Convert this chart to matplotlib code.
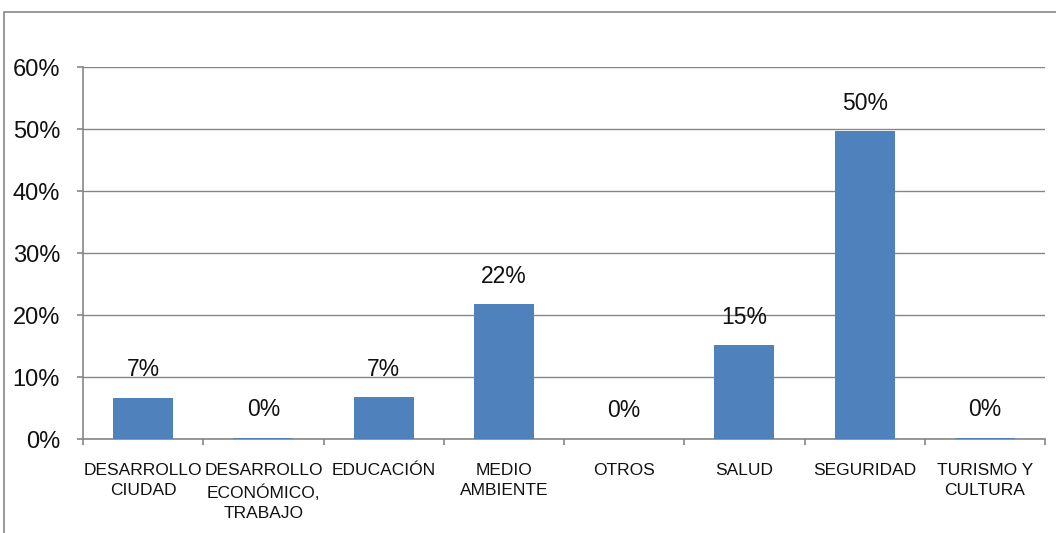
import matplotlib.pyplot as plt
from matplotlib.patches import Rectangle

plt.rcParams['font.family'] = ['Liberation Sans', 'DejaVu Sans']

categories = ['DESARROLLO\nCIUDAD', 'DESARROLLO\nECONÓMICO,\nTRABAJO', 'EDUCACIÓN',
              'MEDIO\nAMBIENTE', 'OTROS', 'SALUD', 'SEGURIDAD', 'TURISMO Y\nCULTURA']
values = [0.066, 0.002, 0.067, 0.217, 0.0, 0.151, 0.496, 0.002]
labels = ['7%', '0%', '7%', '22%', '0%', '15%', '50%', '0%']
yticks = [0, 0.1, 0.2, 0.3, 0.4, 0.5, 0.6]
ytick_labels = ['0%', '10%', '20%', '30%', '40%', '50%', '60%']

fig = plt.figure(figsize=(10.56, 5.33), dpi=100)
ax = fig.add_axes([83 / 1056, 1 - 439 / 533, (1045 - 83) / 1056, (439 - 67) / 533])

# outer chart frame (partially cropped in the original)
fig.patches.append(Rectangle((4 / 1056, -0.2), 1.2, (533 - 12) / 533 + 0.2,
                             transform=fig.transFigure, fill=False,
                             edgecolor='#868686', linewidth=1.2))

x = range(len(categories))
ax.bar(x, values, width=0.5, color='#4F81BD', zorder=3)
for xi, v, lab in zip(x, values, labels):
    ax.annotate(lab, (xi, v), xytext=(0, 12), textcoords='offset points',
                ha='center', va='bottom', fontsize=16.5, color='#111111')

ax.set_xlim(-0.5, 7.5)
ax.set_ylim(0, 0.6)
ax.set_yticks(yticks)
ax.set_yticklabels(ytick_labels, fontsize=17, color='#111111')
ax.grid(axis='y', color='#868686', linewidth=1, zorder=0)

ax.set_xticks(list(x))
ax.set_xticklabels(categories, fontsize=12.5, linespacing=1.48, va='top', color='#111111')
ax.set_xticks([i - 0.5 for i in range(len(categories) + 1)], minor=True)
ax.tick_params(axis='x', which='major', length=0, pad=17)
ax.tick_params(axis='x', which='minor', length=4.5, color='#868686', width=1.2)
ax.tick_params(axis='y', length=4.5, color='#868686', width=1.2, pad=12)

for s in ['top', 'right']:
    ax.spines[s].set_visible(False)
for s in ['left', 'bottom']:
    ax.spines[s].set_color('#868686')
    ax.spines[s].set_linewidth(1.2)

fig.savefig('out.png', dpi=100)
